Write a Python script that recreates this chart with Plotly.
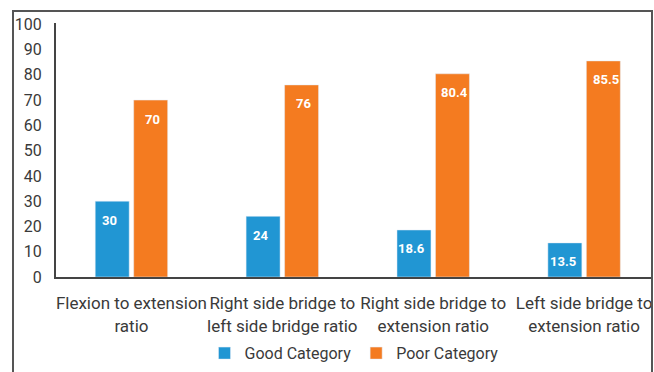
import plotly.graph_objects as go

categories = ["Flexion to extension<br>ratio",
              "Right side bridge to<br>left side bridge ratio",
              "Right side bridge to<br>extension ratio",
              "Left side bridge to<br>extension ratio"]
good = [30, 24, 18.6, 13.5]
poor = [70, 76, 80.4, 85.5]
y_ticks = [0, 10, 20, 30, 40, 50, 60, 70, 80, 90, 100]

BLUE = "#2196d3"
ORANGE = "#f47b20"
FONT = "Roboto, sans-serif"
TXT = "#3a3a3a"

fig = go.Figure()
fig.add_trace(go.Bar(name="Good Category", x=categories, y=good, marker_color=BLUE))
fig.add_trace(go.Bar(name="Poor Category", x=categories, y=poor, marker_color=ORANGE))

anns = []
for series, shift in ((good, -21.5), (poor, 21.5)):
    for c, v in zip(categories, series):
        anns.append(dict(x=c, y=v, xref="x", yref="y", text=f"<b>{v:g}</b>",
                         showarrow=False, xshift=shift, yshift=-19, yanchor="middle",
                         font=dict(color="white", size=13, family=FONT)))

fig.update_layout(
    width=654, height=372,
    margin=dict(l=56, r=2, t=23, b=95, autoexpand=False),
    paper_bgcolor="white", plot_bgcolor="white",
    barmode="group", bargap=0.49, bargroupgap=0.117,
    font=dict(family=FONT, color=TXT, size=16),
    xaxis=dict(range=[-0.5, 3.45], showline=True, linecolor="#444", linewidth=2,
               showgrid=False, ticks="", ticklabelstandoff=10, tickangle=0,
               automargin=False, tickfont=dict(size=17, color=TXT)),
    yaxis=dict(range=[0, 100.5], tickvals=y_ticks, showline=True, linecolor="#444",
               linewidth=2, showgrid=False, ticks="", ticklabelstandoff=9,
               automargin=False, tickfont=dict(size=16, color=TXT), zeroline=False),
    legend=dict(orientation="h", x=0.5, xanchor="center", y=-0.3, yanchor="middle",
                font=dict(size=16, color=TXT), itemwidth=30, traceorder="normal"),
    annotations=anns,
    shapes=[dict(type="rect", xref="paper", yref="paper",
                 x0=-43/596, x1=1.0, y0=-0.5, y1=(277-11)/254,
                 line=dict(color="#555", width=2), fillcolor="rgba(0,0,0,0)", layer="above")],
)

fig.write_html("out.html")
